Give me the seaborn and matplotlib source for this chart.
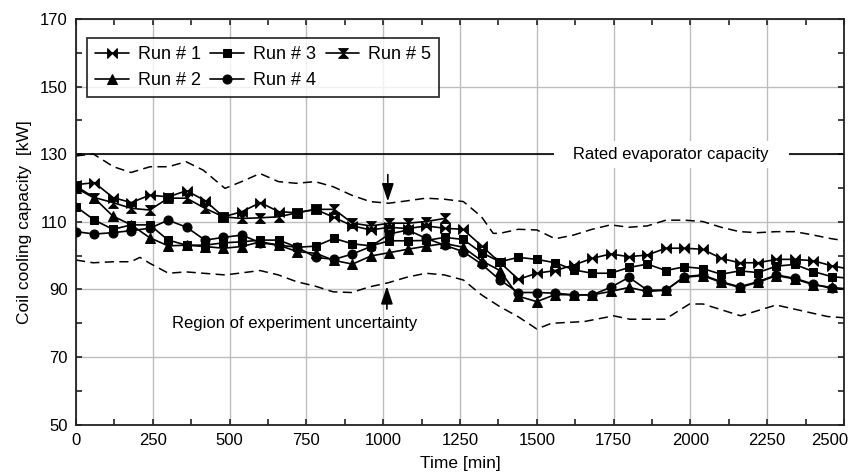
import numpy as np
import pandas as pd
import matplotlib
matplotlib.use("Agg")
import matplotlib.pyplot as plt
import matplotlib.transforms as mtransforms
from matplotlib.path import Path
from matplotlib.ticker import MultipleLocator
import seaborn as sns

# ---------------- data ----------------
time_min = [0, 60, 120, 180, 240, 300, 360, 420, 480, 540, 600, 660, 720, 780,
            840, 900, 960, 1020, 1080, 1140, 1200, 1260, 1320, 1380, 1440, 1500,
            1560, 1620, 1680, 1740, 1800, 1860, 1920, 1980, 2040, 2100, 2160,
            2220, 2280, 2340, 2400, 2460, 2520]

run1 = [121.0, 121.6, 117.2, 115.7, 117.9, 117.4, 119.2, 116.3, 111.5, 113.0, 115.7,
        113.0, 112.7, 113.7, 111.3, 108.8, 107.6, 108.4, 108.0, 108.8, 108.1, 107.8,
        102.9, 98.0, 93.0, 94.8, 95.6, 97.2, 99.2, 100.5, 99.7, 100.2, 102.2, 102.2,
        101.9, 99.2, 97.9, 97.9, 98.9, 98.9, 98.5, 97.0, 96.0]

run2 = [120.0, 117.0, 111.7, 109.1, 105.3, 102.9, 103.1, 102.7, 102.2, 102.7, 104.1,
        103.1, 101.2, 100.7, 98.6, 97.5, 99.9, 100.9, 101.9, 102.8, 103.6, 102.5,
        98.5, 95.6, 88.0, 86.4, 88.5, 88.4, 88.4, 89.4, 90.6, 89.4, 89.8, 93.6,
        94.1, 92.1, 90.6, 92.1, 94.1, 93.1, 91.4, 90.6, 90.1]

run3 = [114.5, 110.5, 107.8, 109.1, 109.1, 104.6, 103.1, 103.1, 103.8, 104.1, 104.6,
        104.6, 102.5, 102.8, 105.1, 103.5, 102.9, 104.4, 104.4, 104.5, 105.4, 104.8,
        100.9, 98.2, 99.5, 98.9, 97.9, 95.8, 94.8, 94.8, 96.5, 97.5, 95.6, 96.7,
        96.2, 94.5, 95.5, 95.0, 96.9, 97.4, 95.3, 93.8, 93.3]

run4 = [107.1, 106.4, 106.8, 107.4, 108.1, 110.5, 108.4, 104.6, 105.4, 106.1, 103.8,
        103.1, 102.5, 99.5, 98.9, 100.5, 102.7, 106.4, 107.6, 105.1, 103.1, 101.2,
        97.5, 92.8, 89.1, 89.1, 88.9, 88.4, 88.4, 90.6, 93.6, 89.8, 89.8, 93.8,
        94.3, 92.3, 90.8, 92.3, 94.3, 93.3, 91.6, 90.3, 90.0]

time_run5 = [0, 60, 120, 180, 240, 300, 360, 420, 480, 540, 600, 660, 720, 780,
             840, 900, 960, 1020, 1080, 1140, 1200]
run5 = [120.5, 117.2, 115.7, 114.0, 113.5, 117.0, 117.0, 114.0, 111.5, 111.0, 111.2,
        111.5, 112.7, 113.7, 113.7, 109.6, 108.8, 109.6, 109.6, 110.1, 111.0]

upper_t = [0, 56, 122, 179, 241, 301, 358, 414, 485, 539, 599, 659, 718, 778, 837,
           897, 957, 1017, 1076, 1139, 1199, 1261, 1320, 1358, 1380, 1440, 1500,
           1560, 1620, 1680, 1740, 1800, 1860, 1920, 1980, 2040, 2100, 2160, 2220,
           2280, 2340, 2400, 2460, 2520]
upper_v = [129.5, 130.1, 126.3, 124.6, 126.3, 126.3, 127.8, 125.3, 119.9, 121.9,
           124.3, 121.9, 121.4, 121.9, 120.4, 117.9, 116.0, 115.5, 116.2, 117.0,
           116.7, 116.0, 111.5, 106.6, 106.6, 107.8, 107.6, 105.0, 106.1, 107.8,
           109.1, 108.4, 108.8, 110.5, 110.5, 110.1, 108.4, 107.1, 106.8, 107.1,
           107.1, 106.1, 105.0, 104.2]

lower_t = [0, 56, 122, 179, 208, 241, 301, 358, 414, 485, 539, 599, 659, 718, 778,
           837, 897, 957, 1017, 1076, 1139, 1199, 1261, 1320, 1380, 1440, 1500,
           1548, 1654, 1750, 1803, 1860, 1918, 1997, 2041, 2164, 2279, 2446, 2520]
lower_v = [98.7, 97.9, 98.2, 98.2, 99.5, 97.7, 94.8, 95.2, 94.8, 94.3, 94.9, 95.6,
           94.3, 92.3, 91.0, 89.3, 89.1, 90.8, 92.0, 93.6, 94.8, 94.3, 92.8, 88.4,
           84.9, 81.9, 78.3, 80.0, 80.5, 82.2, 81.2, 81.2, 81.2, 85.7, 85.7, 82.2,
           85.4, 82.0, 81.5]

rated_capacity = 130
run_labels = ["Run # 1", "Run # 2", "Run # 3", "Run # 4", "Run # 5"]
x_ticks = [0, 250, 500, 750, 1000, 1250, 1500, 1750, 2000, 2250, 2500]
y_ticks = [50, 70, 90, 110, 130, 150, 170]

# ---------------- markers ----------------
bowtie = Path([(-1, -1), (0, 0), (-1, 1), (-1, -1), (1, -1), (0, 0), (1, 1), (1, -1)],
              [Path.MOVETO, Path.LINETO, Path.LINETO, Path.CLOSEPOLY,
               Path.MOVETO, Path.LINETO, Path.LINETO, Path.CLOSEPOLY])
hourglass = Path([(-1, 1), (0, 0), (1, 1), (-1, 1), (-1, -1), (0, 0), (1, -1), (-1, -1)],
                 [Path.MOVETO, Path.LINETO, Path.LINETO, Path.CLOSEPOLY,
                  Path.MOVETO, Path.LINETO, Path.LINETO, Path.CLOSEPOLY])

# ---------------- style ----------------
sns.set_theme(style="white")
plt.rcParams["font.family"] = ["Liberation Sans", "DejaVu Sans"]
plt.rcParams["font.size"] = 12
plt.rcParams["text.color"] = "black"
plt.rcParams["axes.labelcolor"] = "black"
plt.rcParams["xtick.labelcolor"] = "black"
plt.rcParams["ytick.labelcolor"] = "black"

fig = plt.figure(figsize=(8.48, 4.76), dpi=100)
ax = fig.add_axes([76 / 848, 1 - 424.7 / 476, 768 / 848, (424.7 - 19) / 476])

# grid
ax.set_axisbelow(True)
ax.grid(True, which="major", color="#bdbdbd", linewidth=1.0)

# uncertainty band (dashed)
sns.lineplot(x=upper_t, y=upper_v, ax=ax, color="black", linewidth=1.1,
             linestyle=(0, (6, 3.5)), sort=False, zorder=2)
sns.lineplot(x=lower_t, y=lower_v, ax=ax, color="black", linewidth=1.1,
             linestyle=(0, (6, 3.5)), sort=False, zorder=2)

# rated capacity
ax.axhline(rated_capacity, color="black", linewidth=1.2, zorder=2)

series = [
    (time_min, run1, bowtie, 7),
    (time_min, run2, "^", 6.5),
    (time_min, run3, "s", 6),
    (time_min, run4, "o", 6.5),
    (time_run5, run5, hourglass, 7),
]
handles = []
for (t, v, m, ms), lab in zip(series, run_labels):
    n_before = len(ax.lines)
    sns.lineplot(x=t, y=v, ax=ax, color="black", linewidth=1.2, marker=m,
                 markersize=ms, markeredgecolor="black", markerfacecolor="black",
                 sort=False, zorder=3)
    handles.append(ax.lines[n_before])

# annotations
ax.text(1937, rated_capacity, "   Rated evaporator capacity   ", ha="center",
        va="center", fontsize=12,
        bbox=dict(facecolor="white", edgecolor="none", boxstyle="square,pad=0.35"),
        zorder=4)
ax.annotate("", xy=(1015, 115.2), xytext=(1015, 124.8),
            arrowprops=dict(arrowstyle="-|>,head_length=0.9,head_width=0.3",
                            color="black", lw=1.2), zorder=4)
ax.annotate("", xy=(1012, 91.8), xytext=(1012, 83.4),
            arrowprops=dict(arrowstyle="-|>,head_length=0.9,head_width=0.3",
                            color="black", lw=1.2), zorder=4)
ax.text(712, 80.0, "Region of experiment uncertainty", ha="center", va="center",
        fontsize=12)

# axes
ax.set_xlim(0, 2500)
ax.set_ylim(50, 170)
ax.set_xticks(x_ticks)
ax.set_yticks(y_ticks)
ax.xaxis.set_minor_locator(MultipleLocator(125))
ax.yaxis.set_minor_locator(MultipleLocator(10))
ax.tick_params(which="both", direction="in", top=True, right=True, bottom=True,
               left=True, length=4, width=1.2, color="#222222", labelsize=12)
ax.tick_params(axis="x", which="major", pad=6)
ax.tick_params(axis="y", which="major", pad=6)
for s in ax.spines.values():
    s.set_color("#222222")
    s.set_linewidth(1.3)

# keep last x tick label inside the figure
last = ax.get_xticklabels()[-1]
last.set_horizontalalignment("right")
last.set_transform(last.get_transform() +
                   mtransforms.ScaledTranslation(4 / 100, 0, fig.dpi_scale_trans))

ax.set_xlabel("Time [min]", fontsize=12.5, labelpad=6)
ax.set_ylabel("Coil cooling capacity  [kW]", fontsize=12.5, labelpad=6)

leg = ax.legend(handles, run_labels, ncol=3, loc="upper left",
                bbox_to_anchor=(11 / 768, 1 - 19 / 405.7), frameon=True,
                fancybox=False, fontsize=13, handlelength=1.85,
                handletextpad=0.5, columnspacing=0.55, labelspacing=0.5,
                borderpad=0.45, borderaxespad=0.0)
leg.get_frame().set_edgecolor("black")
leg.get_frame().set_linewidth(1.3)
leg.set_zorder(5)

fig.savefig("out.png", dpi=100)
